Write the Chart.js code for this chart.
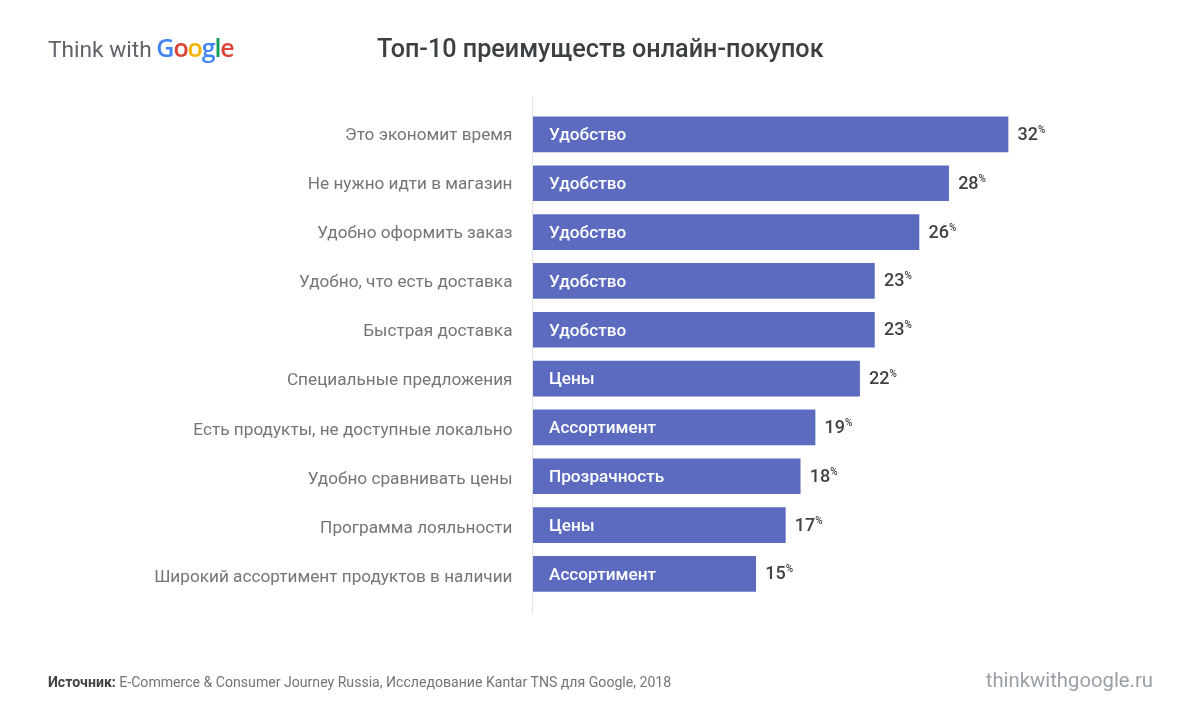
<!DOCTYPE html>
<html>
<head>
<meta charset="utf-8">
<style>
  html, body { margin: 0; padding: 0; background: #fff; overflow: hidden; }
  #wrap { position: relative; width: 1201px; height: 723px; font-family: Roboto, sans-serif; }
  #wrap div { position: absolute; white-space: nowrap; }
  #chart { position: absolute; left: 0; top: 0; }
  .logo { left: 48px; top: 31px; font-size: 22.7px; line-height: 32px; color: #5f6368; }
  .logo b { font-family: "Open Sans", sans-serif; font-weight: 600; font-size: 25px; letter-spacing: -1.1px; margin-left: -1px; }
  .title { left: 377px; top: 33px; font-size: 25.2px; line-height: 32px; font-weight: 500; color: #3c4043; }
  .source { left: 48px; top: 673px; font-size: 14.1px; line-height: 18px; color: #757575; }
  .source b { font-weight: 700; color: #424242; }
  .site { right: 48px; top: 666px; font-size: 20.3px; line-height: 28px; color: #9aa0a6; }
</style>
</head>
<body>
<div id="wrap">
  <canvas id="chart" width="1201" height="723"></canvas>
  <div class="logo">Think with <b><span style="color:#4285f4">G</span><span style="color:#db4437">o</span><span style="color:#f4b400">o</span><span style="color:#4285f4">g</span><span style="color:#0f9d58">l</span><span style="color:#db4437">e</span></b></div>
  <div class="title">Топ-10 преимуществ онлайн-покупок</div>
  <div class="source"><b>Источник:</b> E-Commerce &amp; Consumer Journey Russia, Исследование Kantar TNS для Google, 2018</div>
  <div class="site">thinkwithgoogle.ru</div>
</div>
<script src="https://cdn.jsdelivr.net/npm/chart.js@4"></script>
<script>
const categories = [
  "Это экономит время",
  "Не нужно идти в магазин",
  "Удобно оформить заказ",
  "Удобно, что есть доставка",
  "Быстрая доставка",
  "Специальные предложения",
  "Есть продукты, не доступные локально",
  "Удобно сравнивать цены",
  "Программа лояльности",
  "Широкий ассортимент продуктов в наличии"
];
const values = [32, 28, 26, 23, 23, 22, 19, 18, 17, 15];
const groups = ["Удобство", "Удобство", "Удобство", "Удобство", "Удобство", "Цены", "Ассортимент", "Прозрачность", "Цены", "Ассортимент"];

// подписи категорий, подписи внутри столбцов и значения справа от них
const barLabels = {
  id: "barLabels",
  afterDatasetsDraw(chart) {
    const ctx = chart.ctx;
    const bars = chart.getDatasetMeta(0).data;
    const yScale = chart.scales.y;
    ctx.save();
    ctx.textBaseline = "middle";
    bars.forEach((bar, i) => {
      const y = yScale.getPixelForValue(i) + 1.5;

      // левые подписи в оригинале идут с чуть большим шагом, чем столбцы
      ctx.textAlign = "right";
      ctx.fillStyle = "#757575";
      ctx.font = "400 17.2px Roboto";
      ctx.fillText(categories[i], chart.chartArea.left - 20.5, y + i * 0.22);

      ctx.textAlign = "left";
      ctx.fillStyle = "#ffffff";
      ctx.font = "500 17.2px Roboto";
      ctx.fillText(groups[i], chart.chartArea.left + 16, y);

      const num = String(values[i]);
      ctx.fillStyle = "#424242";
      ctx.font = "500 18px Roboto";
      ctx.fillText(num, bar.x + 9.5, y - 0.5);
      const w = ctx.measureText(num).width;
      ctx.font = "500 10px Roboto";
      ctx.fillText("%", bar.x + 9.5 + w, y - 5.5);
    });
    ctx.restore();
  }
};

// вертикальная линия оси немного длиннее области графика
const axisLine = {
  id: "axisLine",
  beforeDatasetsDraw(chart) {
    const ctx = chart.ctx;
    const a = chart.chartArea;
    ctx.save();
    ctx.strokeStyle = "#e4e4e4";
    ctx.lineWidth = 1;
    ctx.beginPath();
    ctx.moveTo(a.left - 0.5, a.top - 14);
    ctx.lineTo(a.left - 0.5, a.bottom + 16);
    ctx.stroke();
    ctx.restore();
  }
};

new Chart(document.getElementById("chart"), {
  type: "bar",
  data: {
    labels: categories,
    datasets: [{
      data: values,
      backgroundColor: "#5c6bc0",
      barThickness: 35
    }]
  },
  options: {
    indexAxis: "y",
    responsive: false,
    animation: false,
    layout: { padding: { top: 110, bottom: 124.7, right: 0, left: 0 } },
    plugins: { legend: { display: false }, tooltip: { enabled: false } },
    scales: {
      x: {
        display: false,
        min: 0,
        max: 45.0
      },
      y: {
        afterFit(scale) { scale.width = 533; },
        grid: { display: false },
        border: { display: false },
        ticks: { display: false }
      }
    }
  },
  plugins: [axisLine, barLabels]
});
</script>
</body>
</html>
